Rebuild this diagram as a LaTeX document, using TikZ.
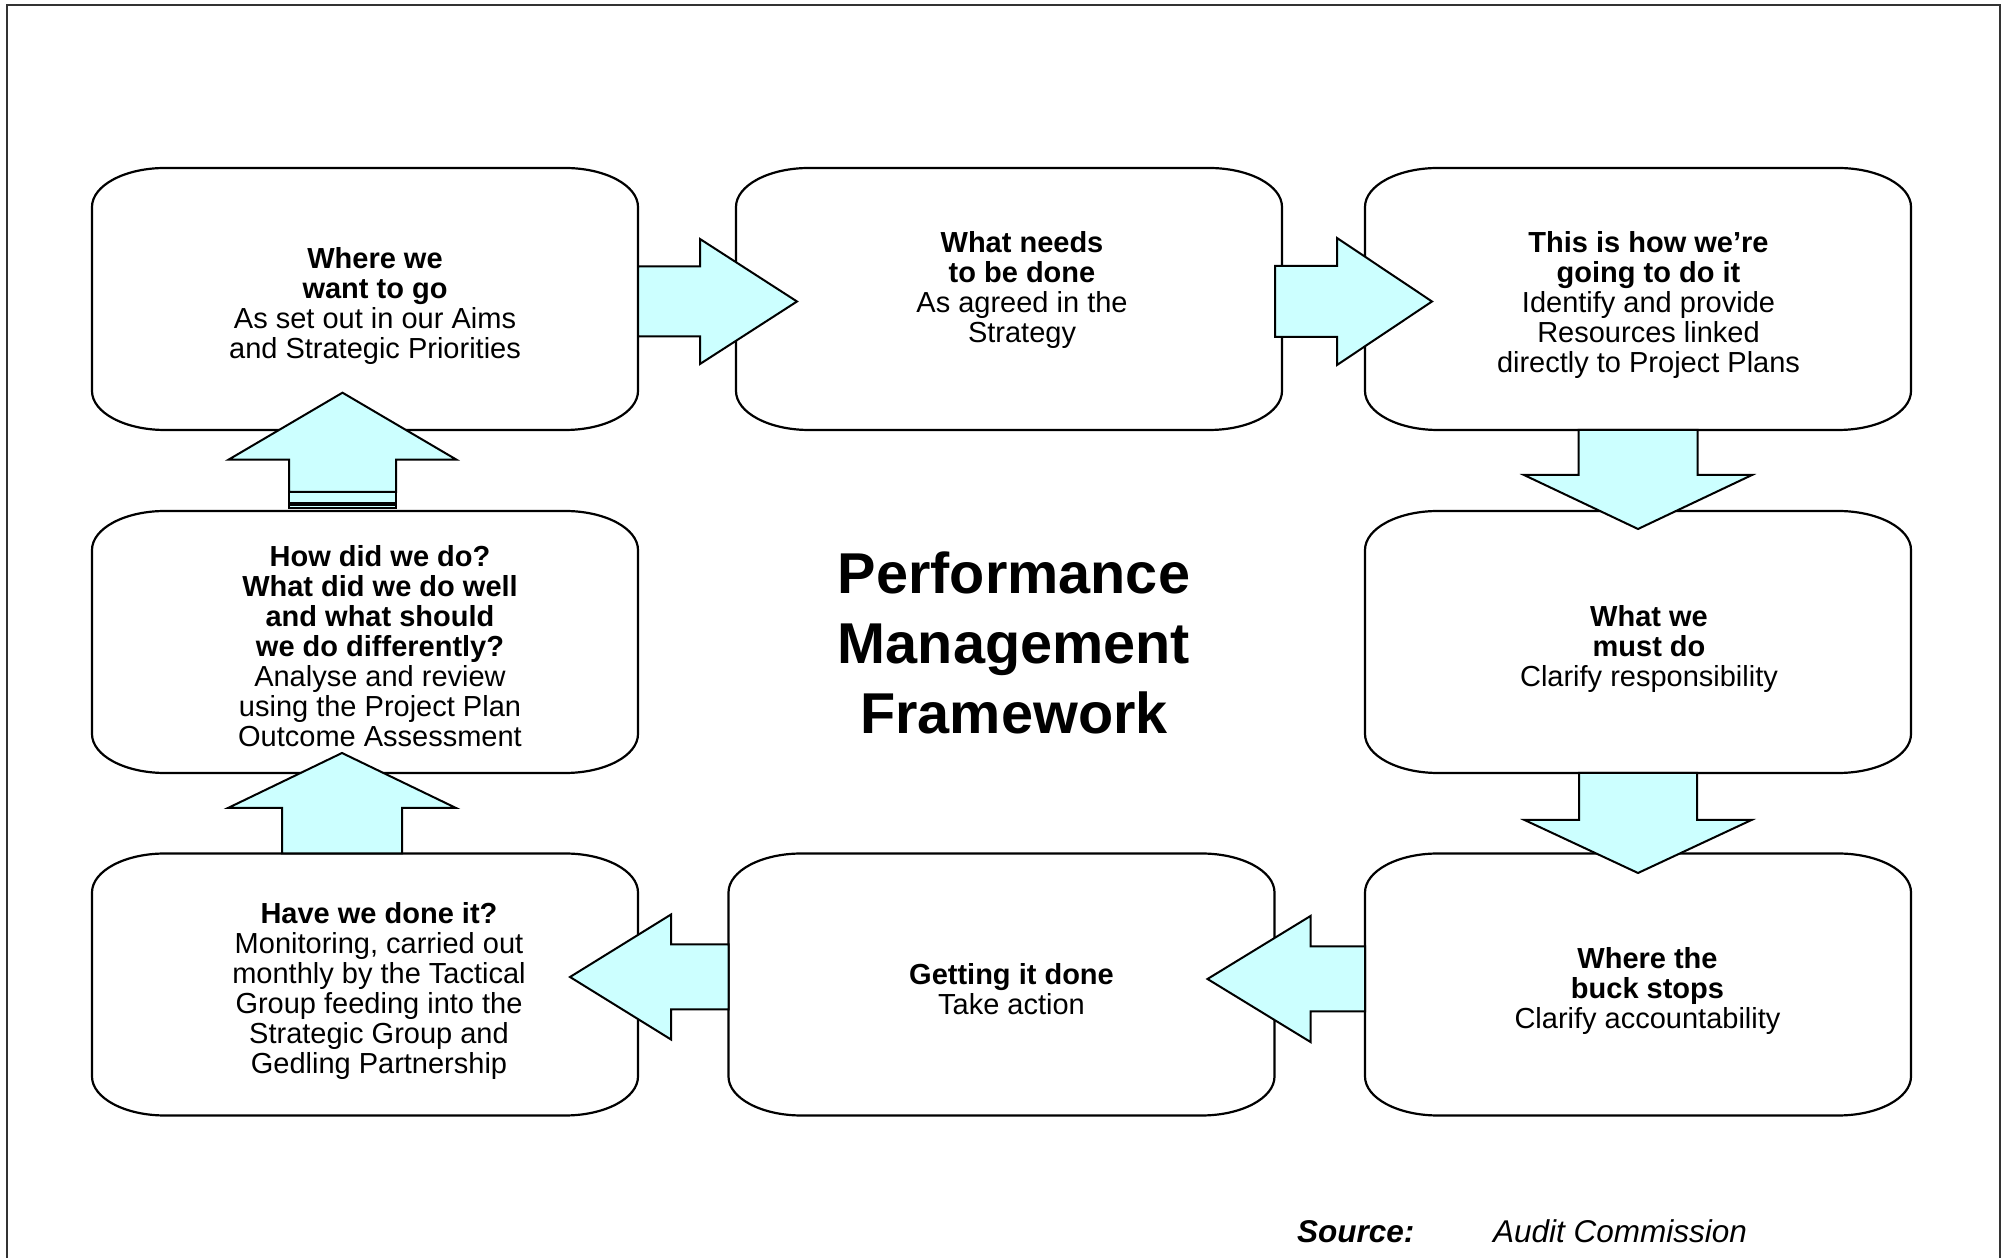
\documentclass[tikz,border=0pt]{standalone}
\usepackage{fontspec}
\setmainfont{Liberation Sans}
\usetikzlibrary{calc}
\definecolor{arrowfill}{HTML}{CCFFFF}
\tikzset{
 boxnode/.style={rectangle, draw=none, minimum width=546pt, minimum height=262pt, inner sep=0pt, outer sep=0pt},
 boxline/.style={line width=2.2pt, fill=white, draw=black},
 blockarrow/.style={line width=2pt, draw=black, fill=arrowfill, line join=miter},
 txt/.style={align=center, inner sep=0pt, outer sep=0pt, anchor=north, font=\fontsize{29}{30}\selectfont},
 titletxt/.style={align=center, inner sep=0pt, outer sep=0pt, anchor=north, font=\bfseries\fontsize{57.6}{69.8}\selectfont},
 srctxt/.style={inner sep=0pt, outer sep=0pt, anchor=base west, font=\fontsize{31.5}{36}\selectfont\itshape},
 framel/.style={line width=2pt, draw=black!80},
}
\newcommand\pmfbox[1]{%
 \draw[boxline] ([xshift=73pt]#1.north west) -- ([xshift=-73pt]#1.north east)
  arc[start angle=90,end angle=0,x radius=73pt,y radius=39pt]
  -- ([yshift=39pt]#1.south east)
  arc[start angle=0,end angle=-90,x radius=73pt,y radius=39pt]
  -- ([xshift=73pt]#1.south west)
  arc[start angle=270,end angle=180,x radius=73pt,y radius=39pt]
  -- ([yshift=-39pt]#1.north west)
  arc[start angle=180,end angle=90,x radius=73pt,y radius=39pt] -- cycle;}
% horizontal block arrow: tail, tip, shaft half, head half, signed head length
\newcommand\pmfharrow[5]{%
 \draw[blockarrow] let \p1=(#1), \p2=(#2) in
  ({\x1},{\y2+#3}) -- ({\x2-(#5)},{\y2+#3}) -- ({\x2-(#5)},{\y2+#4}) -- ({\x2},{\y2})
  -- ({\x2-(#5)},{\y2-#4}) -- ({\x2-(#5)},{\y2-#3}) -- ({\x1},{\y2-#3}) -- cycle;}
% vertical block arrow
\newcommand\pmfvarrow[5]{%
 \draw[blockarrow] let \p1=(#1), \p2=(#2) in
  ({\x2+#3},{\y1}) -- ({\x2+#3},{\y2-(#5)}) -- ({\x2+#4},{\y2-(#5)}) -- ({\x2},{\y2})
  -- ({\x2-#4},{\y2-(#5)}) -- ({\x2-#3},{\y2-(#5)}) -- ({\x2-#3},{\y1}) -- cycle;}
\begin{document}
\begin{tikzpicture}[x=1pt,y=1pt]
\useasboundingbox (0,0) rectangle (2008,1258);
\draw[framel] (6.5,-3) -- (6.5,1252.5) -- (2000,1252.5) -- (2000,-3);

\node[boxnode] (b1) at (365,959) {};
\node[boxnode] (b2) at (1009,959) {};
\node[boxnode] (b3) at (1638,959) {};
\node[boxnode] (b4) at (365,616) {};
\node[boxnode] (b5) at (1638,616) {};
\node[boxnode] (b6) at (365,273.5) {};
\node[boxnode] (b7) at (1001.5,273.5) {};
\node[boxnode] (b8) at (1638,273.5) {};
\pmfbox{b1}\pmfbox{b2}\pmfbox{b3}\pmfbox{b4}
\pmfbox{b5}\pmfbox{b6}\pmfbox{b7}\pmfbox{b8}

\node[txt] (t1) at ([xshift=10pt,yshift=-79pt]b1.north)
 {\textbf{Where we}\\\textbf{want to go}\\As set out in our Aims\\and Strategic Priorities};
\node[txt] (t2) at ([xshift=13pt,yshift=-63.7pt]b2.north)
 {\textbf{What needs}\\\textbf{to be done}\\As agreed in the\\Strategy};
\node[txt] (t3) at ([xshift=10.5pt,yshift=-63.7pt]b3.north)
 {\textbf{This is how we’re}\\\textbf{going to do it}\\Identify and provide\\Resources linked\\directly to Project Plans};
\node[txt] (t4) at ([xshift=15pt,yshift=-34.5pt]b4.north)
 {\textbf{How did we do?}\\\textbf{What did we do well}\\\textbf{and what should}\\\textbf{we do differently?}\\Analyse and review\\using the Project Plan\\Outcome Assessment};
\node[txt] (t5) at ([xshift=11pt,yshift=-94.7pt]b5.north)
 {\textbf{What we}\\\textbf{must do}\\Clarify responsibility};
\node[txt] (t6) at ([xshift=14pt,yshift=-49.3pt]b6.north)
 {\textbf{Have we done it?}\\Monitoring, carried out\\monthly by the Tactical\\Group feeding into the\\Strategic Group and\\Gedling Partnership};
\node[txt] (t7) at ([xshift=10pt,yshift=-109.5pt]b7.north)
 {\textbf{Getting it done}\\Take action};
\node[txt] (t8) at ([xshift=9.5pt,yshift=-94.1pt]b8.north)
 {\textbf{Where the}\\\textbf{buck stops}\\Clarify accountability};

\node[titletxt] (title) at (1014,706.2) {Performance\\Management\\Framework};
\node[srctxt] (src) at (1297,15) {\bfseries Source:};
\node[srctxt] (srcname) at (1493,15) {Audit Commission};

\pmfharrow{b1.east}{[xshift=61pt,yshift=-2.5pt]b2.west}{35pt}{62.5pt}{97pt}
\pmfharrow{[xshift=-7pt]b2.east}{[xshift=67pt,yshift=-2.5pt]b3.west}{35.5pt}{63.5pt}{95pt}
\pmfvarrow{b3.south}{[yshift=-18pt]b5.north}{59.5pt}{114pt}{-54pt}
\pmfvarrow{b5.south}{[yshift=-19.5pt]b8.north}{59pt}{113.5pt}{-53pt}
\pmfharrow{b8.west}{[xshift=-67pt,yshift=5.5pt]b7.east}{32.5pt}{63pt}{-103pt}
\pmfharrow{b7.west}{[xshift=-68pt,yshift=7.5pt]b6.east}{32.5pt}{62.5pt}{-101pt}
\pmfvarrow{b6.north}{[xshift=-23pt,yshift=20pt]b4.south}{60pt}{114pt}{55pt}
\pmfvarrow{[yshift=19pt]b4.north}{[xshift=-22.5pt,yshift=37.3pt]b1.south}{53.5pt}{114pt}{67pt}
\draw[blockarrow] ([xshift=-76pt,yshift=8pt]b4.north) rectangle ([xshift=31pt,yshift=18.5pt]b4.north);
\draw[blockarrow] ([xshift=-76pt,yshift=2.5pt]b4.north) rectangle ([xshift=31pt,yshift=5.5pt]b4.north);
\end{tikzpicture}
\end{document}
